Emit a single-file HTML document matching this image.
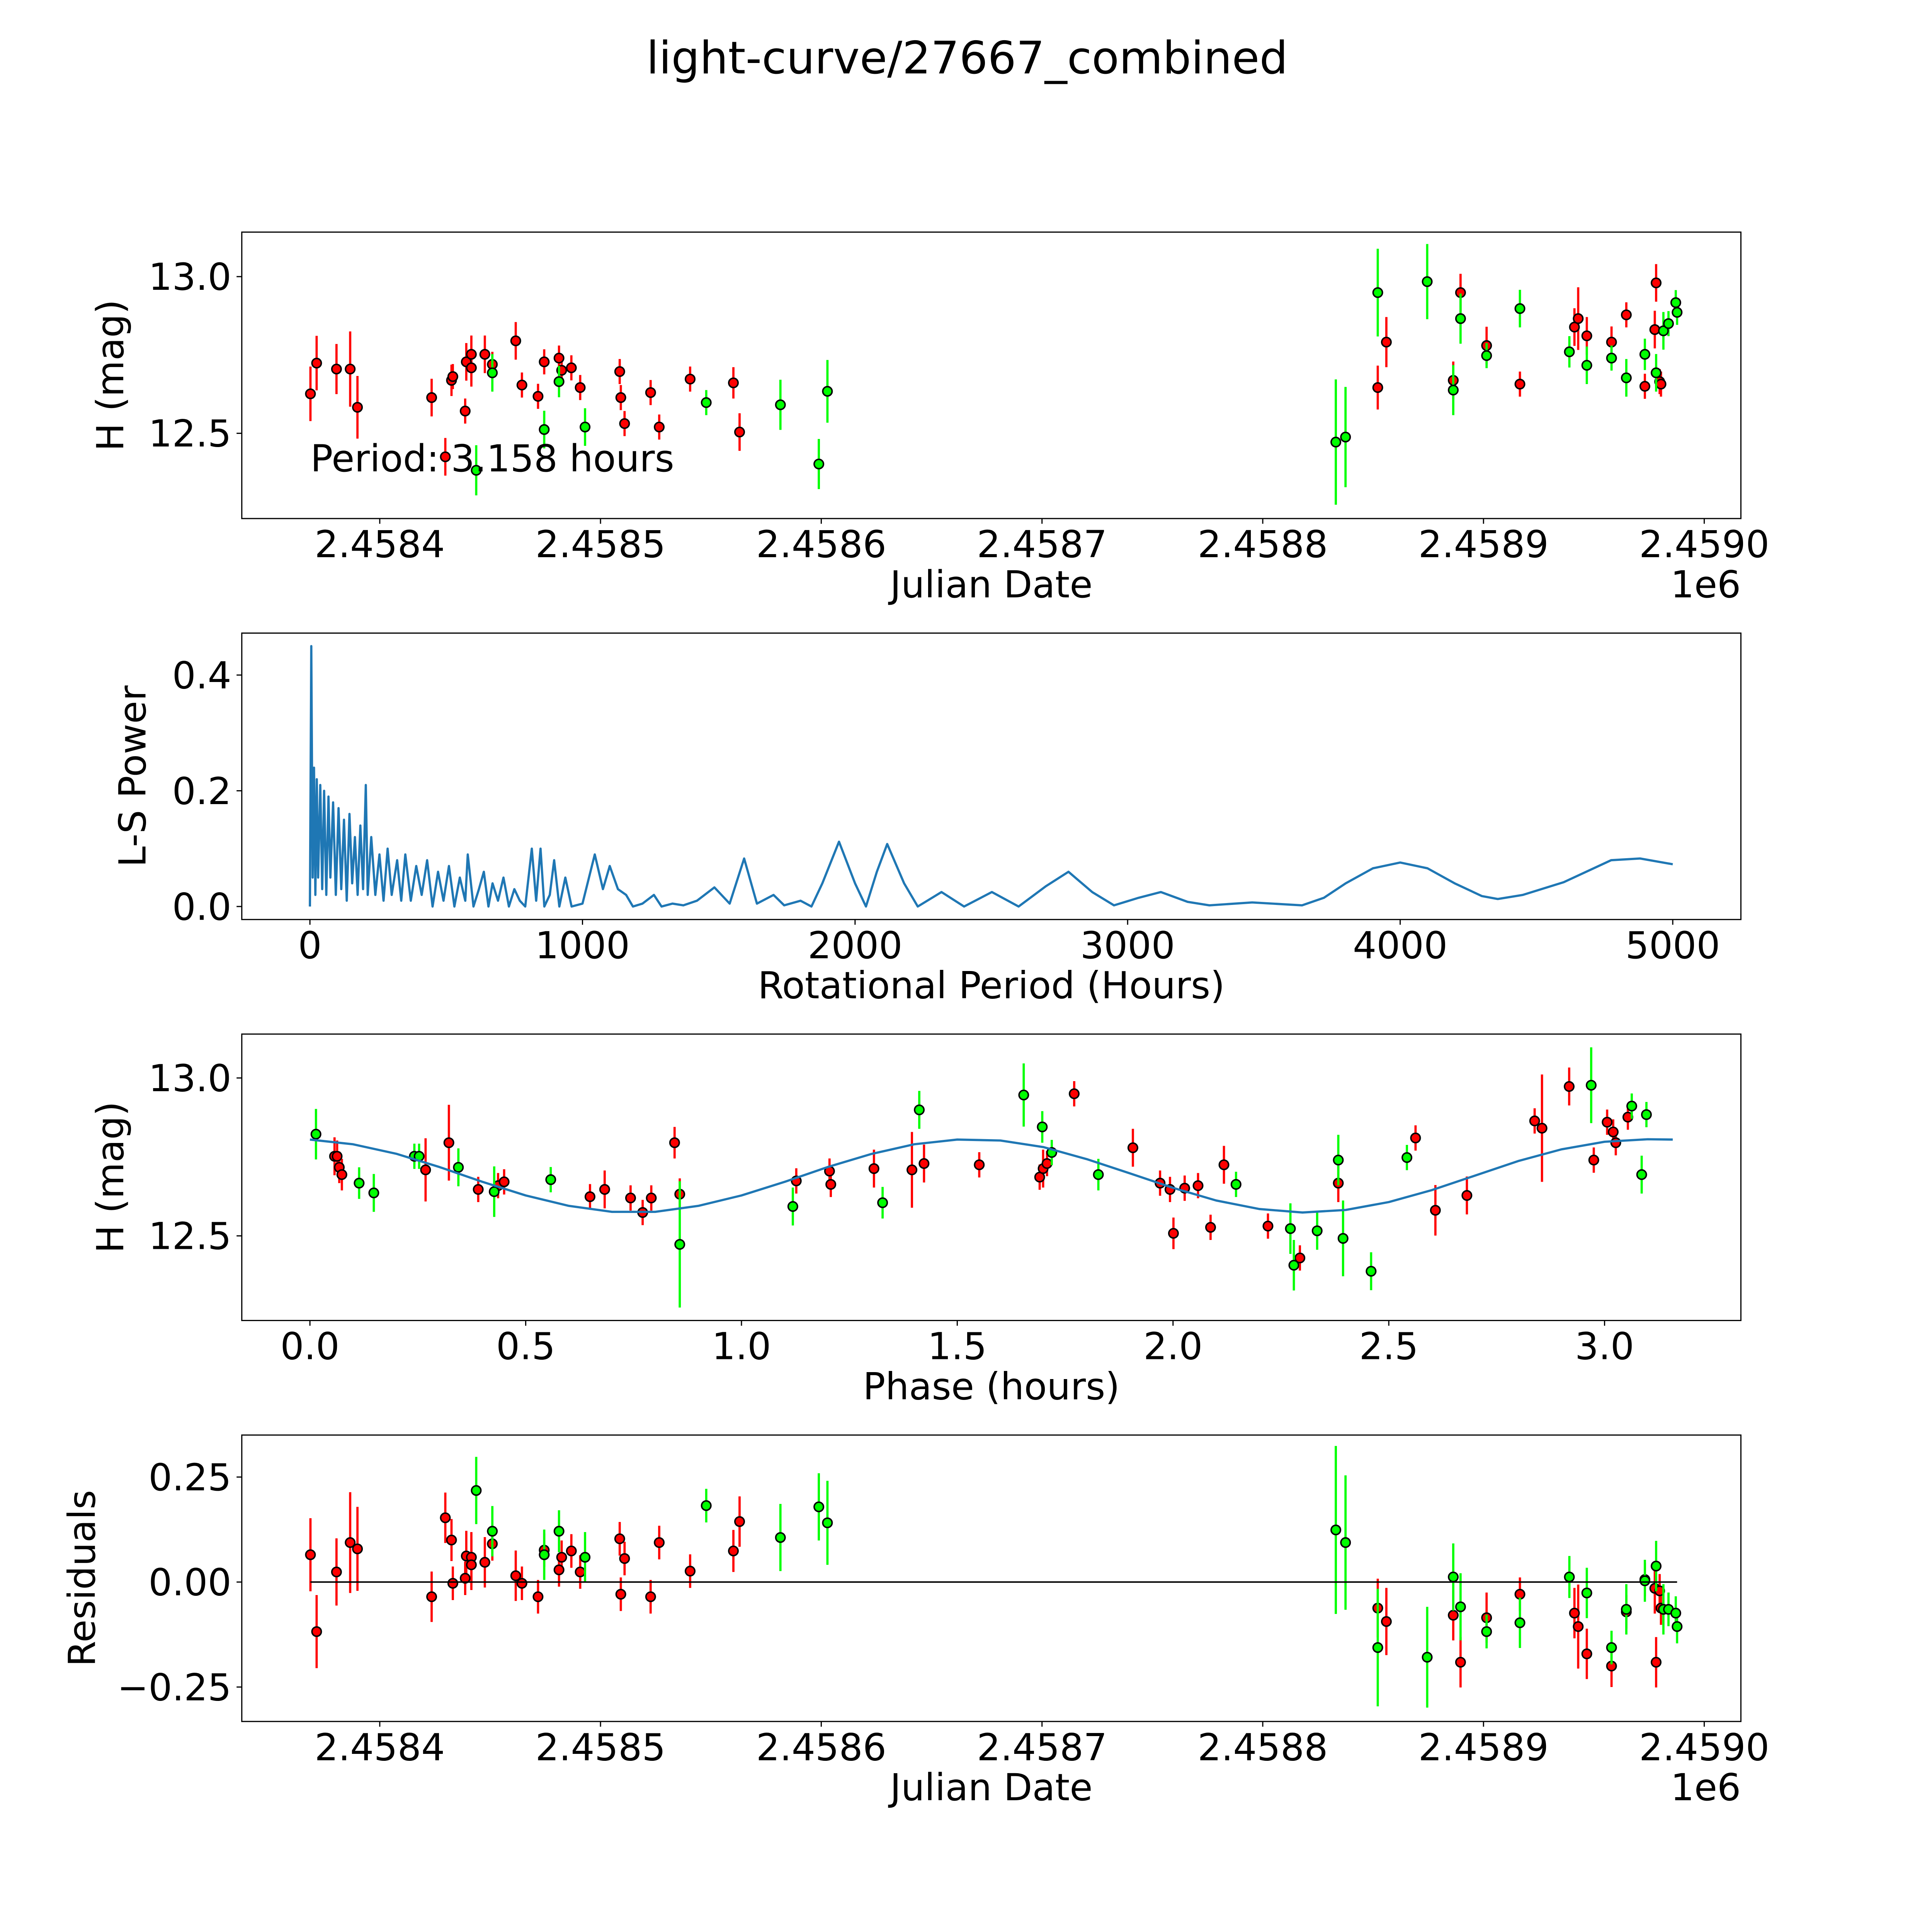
<!DOCTYPE html>
<html><head><meta charset="utf-8"><style>
html,body{margin:0;padding:0;background:#fff;width:5400px;height:5400px;overflow:hidden}
svg{display:block}
text{font-family:"DejaVu Sans","Liberation Sans",sans-serif;fill:#000}
</style></head><body>
<svg id="chart" xmlns="http://www.w3.org/2000/svg" width="5400" height="5400" viewBox="0 0 5825 5825" overflow="hidden">
<rect x="0" y="0" width="5825" height="5825" fill="#fff"/>
<text x="2700" y="205" font-size="125" text-anchor="middle">light-curve/27667_combined</text>
</svg>
<script>
// ---------- Panel 1: light curve ----------
const p1RedJd = [2458368.6,2458371.4,2458380.4,2458386.6,2458389.9,2458423.5,2458429.7,2458432.5,2458433.1,2458438.7,2458439.2,2458441.5,2458441.5,2458447.6,2458451.0,2458461.6,2458464.4,2458471.7,2458474.5,2458481.2,2458482.4,2458486.8,2458490.8,2458508.7,2458509.2,2458510.9,2458522.7,2458526.6,2458540.6,2458560.2,2458563.0,2458852.1,2458856.0,2458886.3,2458889.6,2458901.4,2458916.5,2458941.2,2458942.9,2458946.8,2458958.0,2458964.7,2458973.1,2458977.6,2458978.2,2458979.8,2458980.4];
const p1RedMag = [12.626,12.724,12.705,12.705,12.583,12.614,12.425,12.669,12.681,12.571,12.728,12.752,12.709,12.752,12.720,12.795,12.654,12.618,12.728,12.740,12.701,12.709,12.646,12.697,12.614,12.531,12.630,12.520,12.673,12.661,12.504,12.646,12.791,12.669,12.949,12.780,12.657,12.839,12.866,12.811,12.791,12.878,12.650,12.831,12.980,12.665,12.657];
const p1RedErr = [.087,.087,.08,.12,.10,.06,.06,.05,.04,.04,.06,.06,.06,.06,.04,.06,.04,.04,.04,.04,.04,.04,.04,.04,.04,.04,.04,.04,.04,.05,.06,.07,.08,.06,.06,.06,.04,.06,.10,.06,.05,.04,.04,.06,.06,.04,.04];
const p1GreenJd = [2458443.7,2458451.0,2458474.5,2458481.2,2458493.0,2458547.9,2458581.5,2458598.9,2458602.8,2458833.1,2458837.5,2458852.1,2458874.5,2458886.3,2458889.6,2458901.4,2458916.5,2458938.9,2458946.8,2458958.0,2458964.7,2458973.1,2458978.2,2458981.5,2458983.8,2458987.1,2458987.7];
const p1GreenMag = [12.382,12.693,12.512,12.665,12.520,12.598,12.591,12.402,12.634,12.472,12.488,12.949,12.984,12.638,12.866,12.748,12.898,12.760,12.717,12.740,12.677,12.752,12.693,12.827,12.850,12.917,12.886];
const p1GreenErr = [.08,.06,.06,.05,.06,.04,.08,.08,.10,.2,.16,.14,.12,.08,.08,.04,.06,.05,.06,.04,.06,.05,.06,.06,.04,.04,.04];
const jdTicks = [2458400,2458500,2458600,2458700,2458800,2458900,2459000];
const jdTickLabels = ["2.4584","2.4585","2.4586","2.4587","2.4588","2.4589","2.4590"];
const magTicks = [12.5,13.0];
const magTickLabels = ["12.5","13.0"];

// ---------- Panel 2: periodogram ----------
const lsPeriod = [0,5,10,15,20,25,30,38,45,52,60,68,75,85,95,105,115,125,135,145,155,165,175,185,195,205,212,225,240,255,270,285,300,320,335,350,370,390,410,430,450,470,490,510,530,550,570,579,600,620,638,655,670,690,710,730,750,770,790,814,830,846,860,880,896,915,937,960,1000,1045,1075,1100,1130,1160,1185,1220,1262,1290,1330,1370,1420,1484,1540,1593,1640,1701,1740,1800,1840,1880,1941,2000,2040,2080,2118,2180,2230,2317,2400,2502,2600,2700,2783,2870,2950,3040,3122,3220,3300,3457,3640,3720,3800,3900,4000,4100,4200,4300,4358,4450,4600,4774,4880,5000];
const lsPower = [0,0.45,0.05,0.24,0.02,0.22,0.05,0.21,0.03,0.2,0.02,0.19,0.05,0.18,0.02,0.17,0.03,0.15,0.01,0.16,0.04,0.12,0.02,0.14,0.03,0.21,0.02,0.12,0.02,0.09,0.01,0.1,0.02,0.08,0.01,0.09,0.01,0.07,0.02,0.08,0,0.06,0.01,0.07,0,0.05,0.01,0.09,0,0.03,0.06,0,0.04,0.01,0.05,0,0.03,0.01,0,0.1,0.01,0.1,0,0.02,0.08,0,0.05,0,0.005,0.09,0.03,0.07,0.03,0.02,0,0.005,0.02,0,0.005,0.002,0.01,0.033,0.005,0.083,0.005,0.02,0.002,0.01,0,0.04,0.112,0.04,0,0.06,0.108,0.04,0,0.025,0,0.025,0,0.035,0.06,0.025,0.002,0.015,0.025,0.008,0.002,0.007,0.002,0.015,0.04,0.066,0.076,0.066,0.04,0.018,0.013,0.02,0.042,0.08,0.083,0.073];
const lsXTicks = [0,1000,2000,3000,4000,5000];
const lsYTicks = [0.0,0.2,0.4];
const lsYTickLabels = ["0.0","0.2","0.4"];

// ---------- Panel 3: phased ----------
const phRedPhase = [0.057,0.063,0.068,0.074,0.268,0.322,0.39,0.436,0.45,0.649,0.683,0.743,0.771,0.791,0.845,0.857,1.127,1.204,1.207,1.307,1.395,1.423,1.551,1.691,1.699,1.708,1.771,1.907,1.970,1.993,2.001,2.027,2.058,2.087,2.118,2.220,2.294,2.383,2.562,2.608,2.681,2.838,2.855,2.918,2.975,3.006,3.020,3.026,3.054];
const phRedMag = [12.752,12.752,12.717,12.694,12.709,12.795,12.647,12.659,12.671,12.624,12.647,12.620,12.574,12.620,12.795,12.632,12.674,12.705,12.663,12.713,12.709,12.729,12.725,12.686,12.713,12.729,12.950,12.779,12.667,12.647,12.508,12.651,12.659,12.527,12.725,12.531,12.430,12.667,12.810,12.581,12.628,12.864,12.841,12.973,12.740,12.860,12.829,12.795,12.876];
const phRedErr = [.06,.05,.05,.05,.1,.12,.04,.04,.04,.04,.06,.04,.04,.04,.05,.05,.04,.04,.04,.06,.12,.06,.04,.04,.06,.04,.04,.06,.04,.04,.05,.04,.04,.04,.06,.04,.04,.06,.04,.08,.06,.04,.17,.06,.04,.04,.04,.04,.04];
const phGreenPhase = [0.014,0.114,0.148,0.242,0.253,0.344,0.427,0.558,0.857,1.119,1.327,1.412,1.654,1.697,1.719,1.827,2.146,2.272,2.280,2.334,2.383,2.394,2.459,2.542,2.969,3.063,3.086,3.097];
const phGreenMag = [12.822,12.667,12.636,12.752,12.752,12.717,12.640,12.678,12.473,12.593,12.605,12.899,12.946,12.845,12.764,12.694,12.663,12.523,12.407,12.516,12.740,12.492,12.388,12.748,12.977,12.911,12.694,12.884];
const phGreenErr = [.08,.05,.06,.04,.04,.06,.08,.04,.2,.06,.05,.06,.1,.05,.04,.05,.04,.08,.08,.06,.08,.12,.06,.04,.12,.04,.06,.04];
const modelPhase = [0,0.1,0.2,0.3,0.4,0.5,0.6,0.7,0.8,0.9,1.0,1.1,1.2,1.3,1.4,1.5,1.6,1.7,1.8,1.9,2.0,2.1,2.2,2.3,2.4,2.5,2.6,2.7,2.8,2.9,3.0,3.1,3.158];
const modelMag = [12.805,12.790,12.760,12.718,12.671,12.628,12.595,12.576,12.576,12.595,12.628,12.671,12.718,12.759,12.790,12.805,12.802,12.781,12.743,12.698,12.652,12.612,12.585,12.574,12.582,12.607,12.645,12.691,12.737,12.774,12.798,12.806,12.805];
const phaseTicks = [0.0,0.5,1.0,1.5,2.0,2.5,3.0];
const phaseTickLabels = ["0.0","0.5","1.0","1.5","2.0","2.5","3.0"];

// ---------- Panel 4: residuals ----------
const resRed = [.065,-.118,.024,.094,.079,-.035,.153,.10,-.003,.009,.062,.059,.041,.047,.091,.015,-.003,-.035,.076,.029,.059,.074,.024,.103,-.029,.056,-.035,.094,.026,.074,.144,-.062,-.094,-.079,-.191,-.085,-.029,-.074,-.106,-.171,-.2,-.071,.006,-.015,-.191,-.021,-.062];
const resGreen = [.218,.121,.065,.121,.059,.182,.106,.179,.141,.124,.094,-.156,-.179,.012,-.059,-.118,-.097,.012,-.026,-.156,-.065,.003,.038,-.065,-.065,-.074,-.106];
const resTicks = [-0.25,0.0,0.25];
const resTickLabels = ["\u22120.25","0.00","0.25"];

const NS = "http://www.w3.org/2000/svg";
const svg = document.getElementById('chart');
const L = 675, R = 4860;
const TOPS = [648, 1767.4, 2886.8, 4006.2];
const H = 799.6;
const FS = 104;
function mk(tag, parent, attrs) {
  const e = document.createElementNS(NS, tag);
  for (const k in attrs) e.setAttribute(k, attrs[k]);
  parent.appendChild(e);
  return e;
}
function lin(d0, d1, p0, p1) { return v => p0 + (v - d0) / (d1 - d0) * (p1 - p0); }

function drawAxes(g, top, xs, ys, xt, xtl, yt, ytl, xlabel, ylabel, ylabelX, offsetText) {
  const bottom = top + H;
  xt.forEach((t, i) => {
    const x = xs(t);
    const tk = mk('line', g, {x1: x, x2: x, y1: bottom, y2: bottom + 14.6, stroke: '#000', 'stroke-width': 3.3});
    
    
    const tl = mk('text', g, {x: x, y: bottom + 108, 'font-size': FS, 'text-anchor': 'middle'});
    tl.textContent = xtl[i];
    
    
  });
  yt.forEach((t, i) => {
    const y = ys(t);
    const tk = mk('line', g, {x1: L - 14.6, x2: L, y1: y, y2: y, stroke: '#000', 'stroke-width': 3.3});
    
    
    const tl = mk('text', g, {x: L - 29, y: y + 37, 'font-size': FS, 'text-anchor': 'end'});
    tl.textContent = ytl[i];
    
    
  });
  const xl = mk('text', g, {x: (L + R) / 2, y: bottom + 220, 'font-size': FS, 'text-anchor': 'middle'});
  xl.textContent = xlabel;
  
  
  const cy = top + H / 2;
  const yl = mk('text', g, {x: ylabelX, y: cy, 'font-size': FS, 'text-anchor': 'middle', transform: `rotate(-90 ${ylabelX} ${cy})`});
  yl.textContent = ylabel;
  
  
  if (offsetText) {
    const ot = mk('text', g, {x: R, y: bottom + 220, 'font-size': FS, 'text-anchor': 'end'});
    ot.textContent = offsetText;
    
    
  }
}
function frame(g, top) {
  const f = mk('rect', g, {x: L, y: top, width: R - L, height: H, fill: 'none', stroke: '#000', 'stroke-width': 3.3});
  
  
}
function drawPoints(g, xs, ys, xv, yv, ev, color, name) {
  xv.forEach((xd, i) => {
    const x = xs(xd);
    const b = mk('line', g, {x1: x, x2: x, y1: ys(yv[i] - ev[i]), y2: ys(yv[i] + ev[i]), stroke: color, 'stroke-width': 6.25});
    
    
  });
  xv.forEach((xd, i) => {
    const c = mk('circle', g, {cx: xs(xd), cy: ys(yv[i]), r: 13, fill: color, stroke: '#000', 'stroke-width': 4.2});
    
    
  });
}
function clip(id, top) {
  const d = mk('clipPath', svg, {id: id});
  mk('rect', d, {x: L, y: top, width: R - L, height: H});
}

// Panel 1
{
  const top = TOPS[0];
  const g = mk('g', svg, {});
  
  
  const xs = lin(2458337.5, 2459016.6, L, R);
  const ys = lin(12.228, 13.142, top + H, top);
  clip('c1', top);
  const pg = mk('g', g, {'clip-path': 'url(#c1)'});
  drawPoints(pg, xs, ys, p1RedJd, p1RedMag, p1RedErr, '#ff0000', 'red-obs');
  drawPoints(pg, xs, ys, p1GreenJd, p1GreenMag, p1GreenErr, '#00ff00', 'green-obs');
  const t = mk('text', g, {x: xs(p1RedJd[0]), y: 1316, 'font-size': FS});
  t.textContent = 'Period: 3.158 hours';
  
  
  drawAxes(g, top, xs, ys, jdTicks, jdTickLabels, magTicks, magTickLabels, 'Julian Date', 'H (mag)', 344, '1e6');
  frame(g, top);
}
// Panel 2
{
  const top = TOPS[1];
  const g = mk('g', svg, {});
  
  
  const xs = lin(-250, 5250, L, R);
  const ys = lin(-0.0225, 0.4725, top + H, top);
  const pts = lsPeriod.map((p, i) => xs(p).toFixed(1) + ',' + ys(lsPower[i]).toFixed(1)).join(' ');
  const pl = mk('polyline', g, {points: pts, fill: 'none', stroke: '#1f77b4', 'stroke-width': 6.25, 'stroke-linejoin': 'round'});
  
  
  drawAxes(g, top, xs, ys, lsXTicks, lsXTicks.map(String), lsYTicks, lsYTickLabels, 'Rotational Period (Hours)', 'L-S Power', 406, null);
  frame(g, top);
}
// Panel 3
{
  const top = TOPS[2];
  const g = mk('g', svg, {});
  
  
  const xs = lin(-0.1579, 3.3159, L, R);
  const ys = lin(12.232, 13.139, top + H, top);
  clip('c3', top);
  const pg = mk('g', g, {'clip-path': 'url(#c3)'});
  drawPoints(pg, xs, ys, phRedPhase, phRedMag, phRedErr, '#ff0000', 'red-phased');
  drawPoints(pg, xs, ys, phGreenPhase, phGreenMag, phGreenErr, '#00ff00', 'green-phased');
  const pts = modelPhase.map((p, i) => xs(p).toFixed(1) + ',' + ys(modelMag[i]).toFixed(1)).join(' ');
  const pl = mk('polyline', pg, {points: pts, fill: 'none', stroke: '#1f77b4', 'stroke-width': 6.25, 'stroke-linejoin': 'round'});
  
  
  drawAxes(g, top, xs, ys, phaseTicks, phaseTickLabels, magTicks, magTickLabels, 'Phase (hours)', 'H (mag)', 344, null);
  frame(g, top);
}
// Panel 4
{
  const top = TOPS[3];
  const g = mk('g', svg, {});
  
  
  const xs = lin(2458337.5, 2459016.6, L, R);
  const ys = lin(-0.332, 0.35, top + H, top);
  clip('c4', top);
  const pg = mk('g', g, {'clip-path': 'url(#c4)'});
  drawPoints(pg, xs, ys, p1RedJd, resRed, p1RedErr, '#ff0000', 'red-residual');
  drawPoints(pg, xs, ys, p1GreenJd, resGreen, p1GreenErr, '#00ff00', 'green-residual');
  const zl = mk('line', pg, {x1: xs(p1RedJd[0]), x2: xs(p1GreenJd[p1GreenJd.length - 1]), y1: ys(0), y2: ys(0), stroke: '#000', 'stroke-width': 4.2});
  
  
  drawAxes(g, top, xs, ys, jdTicks, jdTickLabels, resTicks, resTickLabels, 'Julian Date', 'Residuals', 265, '1e6');
  frame(g, top);
}
</script>
</body></html>
